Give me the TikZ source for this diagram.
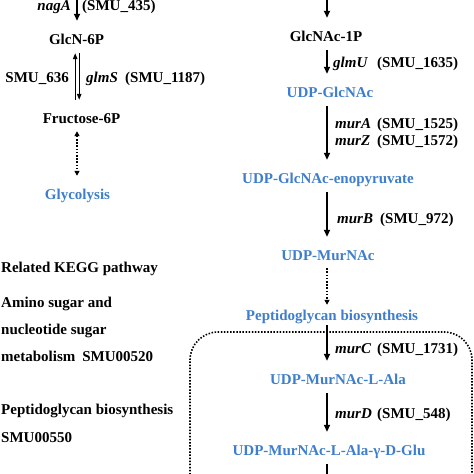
\documentclass[tikz,border=0pt]{standalone}
\usepackage{fontspec}
\setmainfont{Liberation Serif}
\usetikzlibrary{arrows.meta}
\definecolor{pblue}{RGB}{62,126,204}
\begin{document}
\begin{tikzpicture}[x=1pt,y=-1pt,
  txt/.style={font=\fontsize{15}{18}\selectfont\bfseries, inner sep=0pt, text height=10pt, text depth=0pt},
  met/.style={txt},
  metb/.style={txt, text=pblue},
  gene/.style={txt, anchor=west},
  flow/.style={line width=1.8pt, -{Triangle[length=7pt,width=6pt]}, shorten <=9pt, shorten >=13pt},
  dflow/.style={line width=1.8pt, dash pattern=on 1.6pt off 1.6pt, shorten <=8pt, shorten >=13pt},
  thinarr/.style={line width=1.1pt, shorten <=9pt, shorten >=13pt},
  dotbox/.style={line width=1.6pt, dash pattern=on 1.5pt off 1.6pt, rounded corners=28pt}
]
\useasboundingbox (0,0) rectangle (474,474);

% column coordinates
\coordinate (lx) at (77,0);
\coordinate (lxa) at (75.2,0);
\coordinate (lxb) at (79.2,0);
\coordinate (rx) at (327,0);
\coordinate (ltop) at (77,-9);
\coordinate (rtop) at (327,-9);
\coordinate (rbot) at (327,505);

% metabolites
\node[met] (glcn) at (76.5,39) {GlcN-6P};
\node[met] (f6p) at (81.5,118) {Fructose-6P};
\node[metb] (glyc) at (77.5,194) {Glycolysis};
\node[met] (glcnac) at (326,36) {GlcNAc-1P};
\node[metb] (udpg) at (330,92) {UDP-GlcNAc};
\node[metb] (enop) at (328,178) {UDP-GlcNAc-enopyruvate};
\node[metb] (udpm) at (328,255) {UDP-MurNAc};
\node[metb] (pgb) at (332,315) {Peptidoglycan biosynthesis};
\node[metb] (ala) at (338,379) {UDP-MurNAc-L-Ala};
\node[metb] (glu) at (329,450) {UDP-MurNAc-L-Ala-γ-D-Glu};

% gene labels
\node[txt,anchor=east] (naga) at (71,5) {\textit{nagA}};
\node[gene] (smu435) at (82,5) {(SMU\_435)};
\node[txt,anchor=east] (smu636) at (69,77) {SMU\_636};
\node[gene] (glms) at (86,77) {\makebox[39pt][l]{\textit{glmS}}(SMU\_1187)};
\node[gene] (glmu) at (333,62) {\makebox[44pt][l]{\textit{glmU}}(SMU\_1635)};
\node[gene] (mura) at (335,123) {\makebox[42pt][l]{\textit{murA}}(SMU\_1525)};
\node[gene] (murz) at (335,140) {\makebox[42pt][l]{\textit{murZ}}(SMU\_1572)};
\node[gene] (murb) at (337,218) {\makebox[43pt][l]{\textit{murB}}(SMU\_972)};
\node[gene] (murc) at (335,348) {\makebox[42pt][l]{\textit{murC}}(SMU\_1731)};
\node[gene] (murd) at (335,413) {\makebox[42pt][l]{\textit{murD}}(SMU\_548)};

% KEGG text
\node[gene] (k1) at (1,267) {Related KEGG pathway};
\node[gene] (k2) at (1,302) {Amino sugar and};
\node[gene] (k3) at (1,329) {nucleotide sugar};
\node[gene] (k4) at (1,356) {metabolism\hspace{7pt}SMU00520};
\node[gene] (k5) at (1,409) {Peptidoglycan biosynthesis};
\node[gene] (k6) at (1,437) {SMU00550};

% left column connectors
\draw[flow] (ltop) -- (glcn.north -| lx);
\draw[thinarr, {Triangle[length=6pt,width=4.5pt]}-] (glcn.south -| lxa) -- (f6p.north -| lxa);
\draw[thinarr, -{Triangle[length=6pt,width=4.5pt]}] (glcn.south -| lxb) -- (f6p.north -| lxb);
\draw[dflow, {Triangle[length=5pt,width=5pt]}-{Triangle[length=5pt,width=5pt]}] (f6p.south -| lx) -- (glyc.north -| lx);

% right column connectors
\draw[flow] (rtop) -- (glcnac.north -| rx);
\draw[flow] (glcnac.south -| rx) -- (udpg.north -| rx);
\draw[flow] (udpg.south -| rx) -- (enop.north -| rx);
\draw[flow] (enop.south -| rx) -- (udpm.north -| rx);
\draw[dflow, -{Triangle[length=5pt,width=5pt]}, shorten >=5pt] (udpm.south -| rx) -- (pgb.north -| rx);
\draw[flow, shorten <=5pt] (pgb.south -| rx) -- (ala.north -| rx);
\draw[flow] (ala.south -| rx) -- (glu.north -| rx);
\draw[flow] (glu.south -| rx) -- (rbot);

% dotted region
\draw[dotbox] (190,490) -- (190,332) -- (472,332) -- (472,490);
\end{tikzpicture}
\end{document}
